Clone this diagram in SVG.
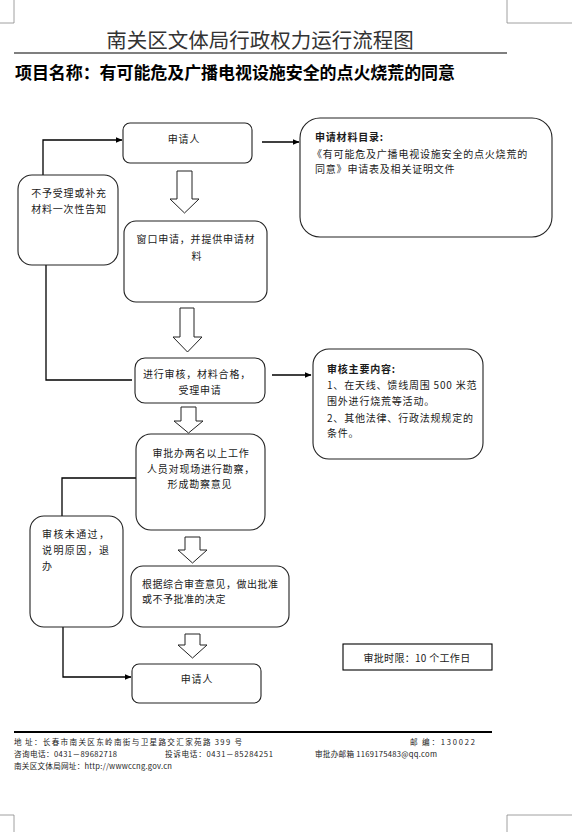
<svg xmlns="http://www.w3.org/2000/svg" width="572" height="832" viewBox="0 0 572 832">
<style>
text{font-family:"Noto Sans CJK SC","Liberation Sans",sans-serif;fill:#1a1a1a;dominant-baseline:central}
.t{font-size:10px;letter-spacing:0.8px}
.c{text-anchor:middle}
.b{font-weight:bold}
.box{fill:#fff;stroke:#222;stroke-width:1.1}
.ha{fill:#fff;stroke:#222;stroke-width:1}
.ln{fill:none;stroke:#000;stroke-width:1.3}
.mark{fill:none;stroke:#888;stroke-width:0.8}
.f{font-size:7.6px}
</style>
<defs>
<marker id="ah" markerWidth="7" markerHeight="6" refX="6.5" refY="3" orient="auto" markerUnits="userSpaceOnUse">
<path d="M0,0 L7,3 L0,6 Z" fill="#000"/>
</marker>
</defs>
<rect width="572" height="832" fill="#fff"/>
<!-- page corner marks -->
<path class="mark" d="M14,0 V23 H0 M507,0 V23 H572 M0,815 H14 V832 M572,815 H507 V832"/>
<!-- header -->
<text x="260" y="38.5" class="c" style="font-size:20.5px;fill:#333">南关区文体局行政权力运行流程图</text>
<line x1="14" y1="53" x2="507" y2="53" stroke="#000" stroke-width="1.2"/>
<text x="15" y="71.5" class="b" textLength="440" lengthAdjust="spacing" style="font-size:17px;fill:#000">项目名称：有可能危及广播电视设施安全的点火烧荒的同意</text>

<g id="connectors">
<polyline class="ln" points="43,175 43,140 122,140" marker-end="url(#ah)"/>
<line class="ln" x1="262" y1="142" x2="299" y2="142" marker-end="url(#ah)"/>
<polyline class="ln" points="46,265 46,380 132,380"/>
<line class="ln" x1="272" y1="375" x2="311" y2="375" marker-end="url(#ah)"/>
<polyline class="ln" points="136,478 62,478 62,516"/>
<polyline class="ln" points="63,627 63,677 131,677" marker-end="url(#ah)"/>
<polygon class="ha" points="177,171 192,171 192,199 199,199 184.5,213 170,199 177,199"/>
<polygon class="ha" points="180,308 194,308 194,337 202,337 187.5,352 173,337 180,337"/>
<polygon class="ha" points="181,407 196,407 196,421 203,421 188.5,433 174,421 181,421"/>
<polygon class="ha" points="185,537 200,537 200,550 207,550 192.5,563 178,550 185,550"/>
<polygon class="ha" points="185,634 200,634 200,645 207,645 192.5,658 178,645 185,645"/>
</g>

<g id="n-applicant">
<rect class="box" x="123" y="123" width="129" height="40" rx="7"/>
<text class="t c" x="184" y="138">申请人</text>
</g>

<g id="n-materials">
<rect class="box" x="300" y="118" width="252" height="119" rx="20"/>
<text class="t b" x="315" y="136">申请材料目录:</text>
<text class="t" x="312" y="153">《有可能危及广播电视设施安全的点火烧荒的</text>
<text class="t" x="315" y="168">同意》申请表及相关证明文件</text>
</g>

<g id="n-reject1">
<rect class="box" x="18" y="175" width="100" height="90" rx="14"/>
<text class="t c" x="69" y="192">不予受理或补充</text>
<text class="t c" x="69" y="208">材料一次性告知</text>
</g>

<g id="n-window">
<rect class="box" x="124" y="221" width="143" height="81" rx="12"/>
<text class="t c" x="196" y="238">窗口申请，并提供申请材</text>
<text class="t c" x="197" y="255">料</text>
</g>

<g id="n-review">
<rect class="box" x="135" y="358" width="130" height="45" rx="10"/>
<text class="t c" x="197" y="373">进行审核，材料合格，</text>
<text class="t c" x="200" y="389">受理申请</text>
</g>

<g id="n-review-content">
<rect class="box" x="313" y="349" width="170" height="110" rx="16"/>
<text class="t b" x="327" y="368">审核主要内容:</text>
<text class="t" x="327" y="384">1、在天线、馈线周围 500 米范</text>
<text class="t" x="327" y="400">围外进行烧荒等活动。</text>
<text class="t" x="327" y="417">2、其他法律、行政法规规定的</text>
<text class="t" x="327" y="432">条件。</text>
</g>

<g id="n-survey">
<rect class="box" x="136" y="434" width="129" height="96" rx="15"/>
<text class="t c" x="201" y="452">审批办两名以上工作</text>
<text class="t c" x="201" y="468">人员对现场进行勘察，</text>
<text class="t c" x="200" y="483">形成勘察意见</text>
</g>

<g id="n-reject2">
<rect class="box" x="30" y="516" width="93" height="111" rx="14"/>
<text class="t" x="42" y="533" style="letter-spacing:1.4px">审核未通过，</text>
<text class="t" x="42" y="549" style="letter-spacing:1.4px">说明原因，退</text>
<text class="t" x="42" y="565">办</text>
</g>

<g id="n-decision">
<rect class="box" x="131" y="566" width="158" height="61" rx="12"/>
<text class="t" x="142" y="583" style="letter-spacing:0.5px">根据综合审查意见，做出批准</text>
<text class="t" x="142" y="598" style="letter-spacing:0.5px">或不予批准的决定</text>
</g>

<g id="n-applicant2">
<rect class="box" x="132" y="664" width="129" height="39" rx="7"/>
<text class="t c" x="197" y="678">申请人</text>
</g>

<g id="n-timelimit">
<rect x="343" y="644" width="149" height="26" fill="#fff" stroke="#000" stroke-width="1.1"/>
<text class="t c" x="417" y="657" style="letter-spacing:0.3px">审批时限：10 个工作日</text>
</g>

<!-- footer -->
<line x1="14" y1="732" x2="492" y2="732" stroke="#000" stroke-width="1.8"/>
<text class="f" x="14" y="741">地</text>
<text class="f" x="25" y="741" textLength="217" lengthAdjust="spacing">址：长春市南关区东岭南街与卫星路交汇家苑路 399 号</text>
<text class="f" x="410" y="741">邮</text>
<text class="f" x="422" y="741" textLength="53" lengthAdjust="spacing">编：130022</text>
<text class="f" x="14" y="753" textLength="103" lengthAdjust="spacing">咨询电话：0431－89682718</text>
<text class="f" x="165" y="753" textLength="108" lengthAdjust="spacing">投诉电话：0431－85284251</text>
<text class="f" x="315" y="753" textLength="122" lengthAdjust="spacing">审批办邮箱 1169175483@qq.com</text>
<text class="f" x="14" y="765" textLength="158" lengthAdjust="spacing">南关区文体局网址：http://wwwccng.gov.cn</text>
</svg>
